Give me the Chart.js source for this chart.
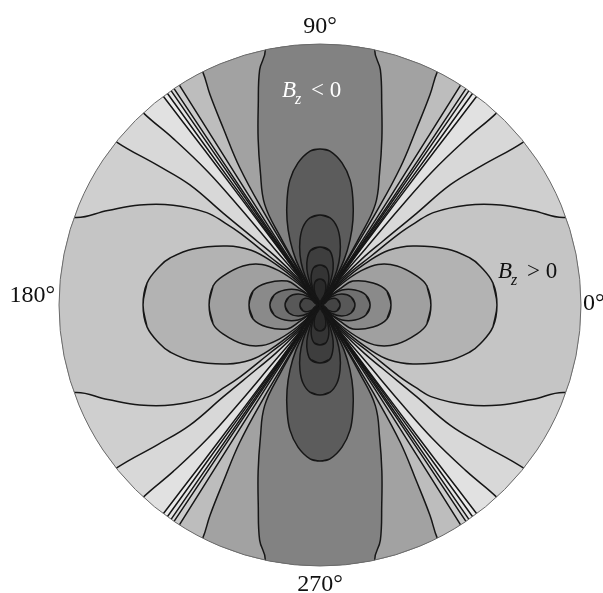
<!DOCTYPE html>
<html>
<head>
<meta charset="utf-8">
<script src="https://cdn.jsdelivr.net/npm/chart.js@4.4.1/dist/chart.umd.min.js"></script>
<style>
  html, body { margin: 0; padding: 0; background: #fff; }
  #wrap { width: 603px; height: 593px; position: relative; }
  .fontwarm { position: absolute; left: -999px; top: 0; font-family: 'Liberation Serif', serif; }
</style>
</head>
<body>
<div id="wrap"><canvas id="bzChart"></canvas></div>
<span class="fontwarm">90° <i>B</i></span>
<script>
/* ── Contour traces of Bz, first quadrant only ──
   Each trace is a list of [angle in degrees, radius] pairs, radius 1 = rim.
   Traces run from their outer end to the centre; the other three quadrants
   are mirror images of this one. */

/* Bz > 0 side (lobes along 0° / 180°), outermost first */
const posTraceD  = [[53.1, 1.00], [53.3, 0.75], [53.5, 0.50], [53.8, 0.25], [54.0, 0.10], [0, 0]];
const posTraceC  = [[47.4, 1.00], [48.6, 0.85], [49.9, 0.67], [50.5, 0.48], [51.0, 0.28], [52.5, 0.15], [53.0, 0.07], [0, 0]];
const posTraceB  = [[38.7, 1.00], [40.7, 0.82], [42.7, 0.68], [43.5, 0.51], [45.5, 0.34], [47.5, 0.25], [50.5, 0.13], [51.5, 0.07], [0, 0]];
const posTraceA  = [[19.6, 1.00], [24.0, 0.89], [29.0, 0.79], [34.2, 0.68], [39.2, 0.56], [40.8, 0.48], [42.0, 0.41], [43.8, 0.27], [47.5, 0.16], [49.5, 0.08], [0, 0]];
const posTraceH1 = [[0, 0.678], [7.2, 0.668], [13.7, 0.631], [17.4, 0.602], [23.8, 0.532], [32.4, 0.422], [38.5, 0.337], [42.0, 0.25], [45.5, 0.15], [48.0, 0.07], [0, 0]];
const posTraceH2 = [[0, 0.425], [10.1, 0.416], [16.6, 0.388], [26.9, 0.331], [35.0, 0.271], [40.0, 0.20], [44.0, 0.12], [47.0, 0.05], [0, 0]];
const posTraceH3 = [[0, 0.272], [11.8, 0.262], [22.5, 0.220], [36.0, 0.156], [39.0, 0.10], [44.0, 0.04], [0, 0]];
const posTraceH4 = [[0, 0.192], [12.3, 0.180], [23.2, 0.146], [34.3, 0.102], [40.0, 0.057], [0, 0]];
const posTraceH5 = [[0, 0.134], [14.5, 0.123], [26.6, 0.094], [35.0, 0.057], [0, 0]];
const posTraceH6 = [[0, 0.077], [19.4, 0.069], [30.0, 0.047], [0, 0]];

/* Bz < 0 side (lobes along 90° / 270°), outermost first */
const negTraceB1 = [[54.2, 1.00], [54.2, 0.50], [54.3, 0.15], [0, 0]];
const negTraceB2 = [[55.2, 1.00], [55.1, 0.50], [55.0, 0.15], [0, 0]];
const negTraceB3 = [[56.0, 1.00], [55.8, 0.50], [55.6, 0.15], [0, 0]];
const negTraceB4 = [[57.4, 1.00], [57.0, 0.50], [56.4, 0.15], [0, 0]];
const negTraceE  = [[63.3, 1.00], [62.4, 0.91], [61.3, 0.77], [59.7, 0.61], [58.8, 0.42], [58.5, 0.22], [57.5, 0.12], [0, 0]];
const negTraceF  = [[77.9, 1.00], [75.6, 0.93], [72.8, 0.80], [69.6, 0.68], [65.9, 0.56], [61.2, 0.44], [59.8, 0.30], [58.8, 0.15], [58.0, 0.07], [0, 0]];
const negTraceD1 = [[90, 0.598], [86.3, 0.591], [81.2, 0.551], [76.5, 0.493], [72.6, 0.422], [68.8, 0.349], [65.2, 0.274], [61.9, 0.195], [59.7, 0.106], [58.8, 0.05], [0, 0]];
const negTraceD2 = [[90, 0.345], [83.4, 0.336], [77.7, 0.306], [72.9, 0.261], [68.2, 0.206], [64.1, 0.149], [61.2, 0.087], [59.5, 0.04], [0, 0]];
const negTraceD3 = [[90, 0.222], [80.5, 0.213], [75.0, 0.186], [70.0, 0.147], [66.0, 0.100], [62.0, 0.052], [0, 0]];
const negTraceD4 = [[90, 0.153], [80.8, 0.146], [73.0, 0.116], [68.0, 0.083], [64.0, 0.043], [0, 0]];
const negTraceD5 = [[90, 0.100], [78.0, 0.091], [70.0, 0.065], [66.0, 0.034], [0, 0]];

const posTraces = [posTraceD, posTraceC, posTraceB, posTraceA, posTraceH1, posTraceH2, posTraceH3, posTraceH4, posTraceH5, posTraceH6];
const negTraces = [negTraceB1, negTraceB2, negTraceB3, negTraceB4, negTraceE, negTraceF, negTraceD1, negTraceD2, negTraceD3, negTraceD4, negTraceD5];

/* grey of the band enclosed by each trace */
const posShades = ['#e1e1e1', '#d8d8d8', '#cfcfcf', '#c5c5c5', '#b3b3b3', '#a0a0a0', '#8a8a8a', '#707070', '#585858', '#444444'];
const negShades = ['#e4e4e4', '#d9d9d9', '#cdcdcd', '#bdbdbd', '#a2a2a2', '#828282', '#5c5c5c', '#4b4b4b', '#3e3e3e', '#343434', '#2a2a2a'];
const zeroBand = '#ebebeb';

const angleLabels = ['0°', '90°', '180°', '270°'];

/* ── geometry helpers ── */
const toXY = ([a, r]) => [r * Math.cos(a * Math.PI / 180), r * Math.sin(a * Math.PI / 180)];
const mul = (p, k) => [p[0] * k, p[1] * k];

/**
 * Builds the closed outline of one lobe from a first-quadrant trace.
 * axis 'x' -> lobe around +x (mirror y), axis 'y' -> lobe around +y (mirror x).
 * Traces that leave the rim get pushed outward so the rim clip closes them.
 */
function lobePath(trace, axis) {
  const pts = trace.map(toXY);
  const flip = axis === 'x' ? p => [p[0], -p[1]] : p => [-p[0], p[1]];
  const back = pts.slice(0, -1).reverse().map(flip);
  const open = trace[0][0] !== (axis === 'x' ? 0 : 90);
  if (open) {
    const e = pts[0], fe = flip(e);
    const far = axis === 'x' ? [2, 0] : [0, 2];
    return [far, mul(e, 1.8), mul(e, 1.15), ...pts, ...back, mul(fe, 1.15), mul(fe, 1.8), far];
  }
  return [back[back.length - 2], ...pts, ...back, pts[1]];
}

function bothLobes(trace, axis) {
  const one = lobePath(trace, axis);
  const other = one.map(p => axis === 'x' ? [-p[0], p[1]] : [p[0], -p[1]]);
  return [one, other];
}

const asPoints = path => path.map(p => ({x: p[0], y: p[1]}));

/* ── datasets: fills outer to inner, then all contour strokes on top ── */
const datasets = [];
let drawOrder = 1000;

function addFills(traces, shades, axis) {
  traces.forEach((t, i) => {
    bothLobes(t, axis).forEach(path => {
      datasets.push({
        data: asPoints(path),
        showLine: true,
        fill: 'shape',
        backgroundColor: shades[i],
        borderColor: 'rgba(0,0,0,0)',
        borderWidth: 0,
        order: drawOrder--
      });
    });
  });
}

function addStrokes(traces, axis) {
  traces.forEach(t => {
    bothLobes(t, axis).forEach(path => {
      datasets.push({
        data: asPoints(path),
        showLine: true,
        fill: false,
        borderColor: '#161616',
        borderWidth: 1.5,
        order: 0
      });
    });
  });
}

addFills(posTraces, posShades, 'x');
addFills(negTraces, negShades, 'y');
addStrokes(posTraces, 'x');
addStrokes(negTraces, 'y');

/* ── rim clip, background, outline and labels ── */
const SERIF = "'Liberation Serif', 'Times New Roman', Times, serif";

function frame(chart) {
  const xs = chart.scales.x, ys = chart.scales.y;
  const cx = xs.getPixelForValue(0), cy = ys.getPixelForValue(0);
  return {cx, cy, r: xs.getPixelForValue(1) - cx, xs, ys};
}

function drawBz(ctx, x, y, color, rel) {
  ctx.fillStyle = color;
  ctx.textAlign = 'left';
  ctx.textBaseline = 'alphabetic';
  ctx.font = 'italic 23px ' + SERIF;
  ctx.fillText('B', x, y);
  let w = ctx.measureText('B').width;
  ctx.font = 'italic 16px ' + SERIF;
  ctx.fillText('z', x + w - 1, y + 7);
  w += ctx.measureText('z').width + 3;
  ctx.font = '23px ' + SERIF;
  ctx.fillText(' ' + rel + ' 0', x + w, y);
}

const polarFrame = {
  id: 'polarFrame',
  beforeDatasetsDraw(chart) {
    const {ctx} = chart;
    const {cx, cy, r} = frame(chart);
    ctx.save();
    ctx.beginPath();
    ctx.arc(cx, cy, r, 0, Math.PI * 2);
    ctx.clip();
    ctx.fillStyle = zeroBand;
    ctx.fillRect(cx - r, cy - r, 2 * r, 2 * r);
  },
  afterDatasetsDraw(chart) {
    const {ctx} = chart;
    ctx.restore();
    const {cx, cy, r, xs, ys} = frame(chart);

    ctx.save();
    ctx.beginPath();
    ctx.arc(cx, cy, r, 0, Math.PI * 2);
    ctx.strokeStyle = '#6a6a6a';
    ctx.lineWidth = 1;
    ctx.stroke();

    /* angle labels round the rim */
    ctx.fillStyle = '#111';
    ctx.font = '24px ' + SERIF;
    ctx.textBaseline = 'alphabetic';
    ctx.textAlign = 'left';
    ctx.fillText(angleLabels[0], cx + r + 2, cy + 5);
    ctx.textAlign = 'center';
    ctx.fillText(angleLabels[1], cx, cy - r - 11);
    ctx.textAlign = 'right';
    ctx.fillText(angleLabels[2], cx - r - 4, cy - 3);
    ctx.textAlign = 'center';
    ctx.fillText(angleLabels[3], cx, cy + r + 25);

    /* sign labels */
    drawBz(ctx, xs.getPixelForValue(-0.146), ys.getPixelForValue(0.797), '#ffffff', '<');
    drawBz(ctx, xs.getPixelForValue(0.682), ys.getPixelForValue(0.103), '#111111', '>');
    ctx.restore();
  }
};

const chart = new Chart(document.getElementById('bzChart'), {
  type: 'scatter',
  data: { datasets: datasets },
  options: {
    responsive: true,
    maintainAspectRatio: false,
    animation: false,
    events: [],
    layout: { padding: { left: 59, right: 22, top: 44, bottom: 27 } },
    elements: {
      line: { tension: 0.4, capBezierPoints: false },
      point: { radius: 0, hitRadius: 0 }
    },
    scales: {
      x: { type: 'linear', min: -1, max: 1, display: false },
      y: { type: 'linear', min: -1, max: 1, display: false }
    },
    plugins: {
      legend: { display: false },
      tooltip: { enabled: false }
    }
  },
  plugins: [polarFrame]
});

/* redraw once the serif face is surely available to the canvas */
if (document.fonts && document.fonts.load) {
  Promise.all([
    document.fonts.load("24px 'Liberation Serif'"),
    document.fonts.load("italic 23px 'Liberation Serif'")
  ]).then(() => chart.draw()).catch(() => {});
}
</script>
</body>
</html>
